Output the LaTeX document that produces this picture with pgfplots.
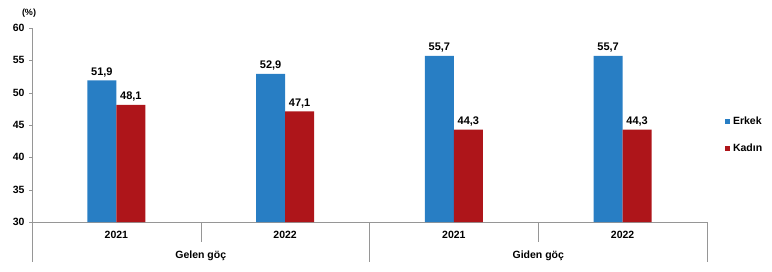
\documentclass[border=0pt]{standalone}
\usepackage{pgfplots}
\pgfplotsset{compat=1.18}
\usepackage{fontspec}
\setmainfont{Liberation Sans}
\definecolor{cblue}{RGB}{40,126,196}
\definecolor{cred}{RGB}{174,21,26}
\definecolor{cgray}{RGB}{150,150,150}
\begin{document}
\begin{tikzpicture}
\useasboundingbox (-32pt,-49pt) rectangle (740pt,222pt);
\begin{axis}[
  scale only axis,
  width=675pt, height=194pt,
  xmin=0, xmax=4, ymin=30, ymax=60,
  ytick={30,35,...,60},
  xtick={0.5,1.5,2.5,3.5},
  xticklabels={2021,2022,2021,2022},
  axis x line*=bottom, axis y line*=left,
  axis line style={cgray, thin},
  x axis line style={-}, y axis line style={-},
  major tick length=3pt,
  xtick style={draw=none},
  ytick style={cgray},
  tick align=outside,
  font=\fontsize{10.5}{12}\selectfont\bfseries,
  ticklabel style={font=\fontsize{10.5}{12}\selectfont\bfseries},
  /pgf/number format/assume math mode=true,
  xticklabel style={yshift=-3pt},
  yticklabel style={xshift=-1pt},
  clip=false,
  ybar, bar width=29pt,
  nodes near coords,
  nodes near coords style={font=\fontsize{11}{13}\selectfont\bfseries, /pgf/number format/.cd, use comma, fixed, fixed zerofill, precision=1, assume math mode=true},
  legend style={draw=none, at={(1.022,0.448)}, anchor=west, font=\fontsize{10.5}{12}\selectfont\bfseries, row sep=14pt, /tikz/every odd column/.append style={column sep=1pt}},
  legend cell align=left,
  legend image code/.code={\fill[#1] (0pt,-2.5pt) rectangle (5pt,2.5pt);},
]
\addplot[fill=cblue, draw=none, bar shift=-14.5pt] coordinates {(0.5,51.9) (1.5,52.9) (2.5,55.7) (3.5,55.7)};
\addplot[fill=cred, draw=none, bar shift=14.5pt] coordinates {(0.5,48.1) (1.5,47.1) (2.5,44.3) (3.5,44.3)};
\legend{Erkek, Kadın}
\draw[cgray, thin] (axis cs:0,30) -- ([yshift=-40pt]axis cs:0,30);
\draw[cgray, thin] (axis cs:2,30) -- ([yshift=-40pt]axis cs:2,30);
\draw[cgray, thin] (axis cs:4,30) -- ([yshift=-40pt]axis cs:4,30);
\draw[cgray, thin] (axis cs:1,30) -- ([yshift=-20pt]axis cs:1,30);
\draw[cgray, thin] (axis cs:3,30) -- ([yshift=-20pt]axis cs:3,30);
\node[font=\fontsize{10.5}{12}\selectfont\bfseries] at ([yshift=-34pt]axis cs:1,30) {Gelen göç};
\node[font=\fontsize{10.5}{12}\selectfont\bfseries] at ([yshift=-34pt]axis cs:3,30) {Giden göç};
\node[font=\fontsize{9}{11}\selectfont\bfseries] at ([xshift=-3pt,yshift=15pt]axis cs:0,60) {(\%)};
\end{axis}
\end{tikzpicture}
\end{document}
